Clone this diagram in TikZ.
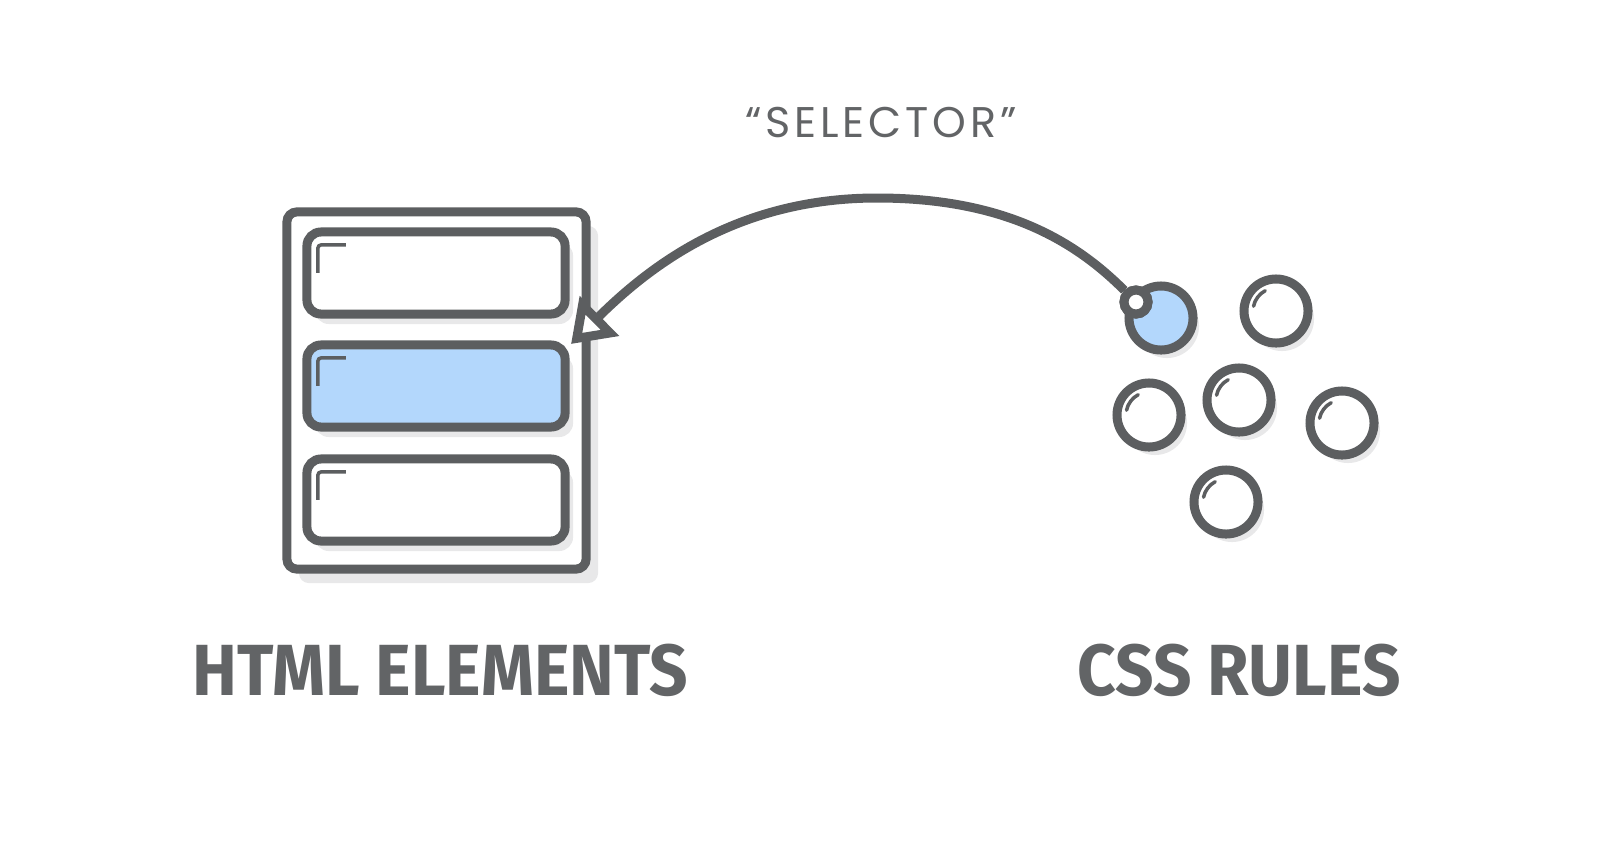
\documentclass[tikz,border=0pt]{standalone}
\usepackage{fontspec}
\usetikzlibrary{arrows.meta,shadows}
\newfontfamily\capsfont{Fira Sans}
\newfontfamily\quotefont{Poppins}[LetterSpace=9]

\begin{document}
\begin{tikzpicture}[x=0.01cm, y=0.01cm]

\definecolor{InkGray}{HTML}{5C5E60}
\definecolor{PaleBlue}{HTML}{B3D7FC}
\definecolor{ShadeGray}{HTML}{E8E8E9}
\definecolor{TextGray}{HTML}{626466}

\tikzset{
  ink/.style={draw=InkGray, line width=0.09cm, inner sep=0pt},
  gleam/.style={draw=InkGray, line width=0.035cm, line cap=round},
  shade/.style={drop shadow={shadow xshift=#1, shadow yshift=-#1-0.02cm, fill=ShadeGray, opacity=1}},
  bigcaps/.style={text=TextGray, anchor=base, font=\capsfont\bfseries\fontsize{20.6pt}{24pt}\selectfont}
}

\useasboundingbox (0,0) rectangle (1622,-854);

% Frame
\node[ink, fill=white, rounded corners=0.1cm, minimum width=2.99cm, minimum height=3.57cm, shade=0.12cm] (frame) at (436.5,-390.5) {};

% Element boxes
\foreach \n/\y/\c in {1/-273/white, 2/-386/PaleBlue, 3/-500/white}
{
     \node[ink, fill=\c, rounded corners=0.14cm, minimum width=2.58cm, minimum height=0.82cm, shade=0.08cm] (elem\n) at (436,\y) {};
     \draw[gleam, line cap=butt, rounded corners=0.03cm] ([shift={(15.5,-45.5)}]elem\n.north west) -- ++(0,28) -- ++(28,0);
}

% Rules
\foreach \n/\x/\y in {2/1276/-311, 3/1149/-415, 4/1239/-400, 5/1342/-423, 6/1226/-502}
{
     \node[ink, circle, fill=white, minimum size=0.64cm, shade=0.06cm] (rule\n) at (\x,\y) {};
     \draw[gleam] (rule\n.center) ++(168:23) arc (168:118:23);
}
\node[ink, circle, fill=PaleBlue, minimum size=0.64cm, shade=0.06cm] (rule1) at (1161,-318) {};
\node[ink, circle, fill=white, minimum size=0.24cm] (knob) at (1136,-302) {};

% Selector arrow
\coordinate (tip) at (571,-344);
\draw[ink, -{Triangle[length=0.4cm, width=0.54cm, fill=white]}] (knob) .. controls (1077,-243) and (1007,-198) .. (877,-198)
     .. controls (735,-198) and (648,-268) .. (tip);
\node[ink, circle, fill=white, minimum size=0.24cm] at (knob) {};

% Labels
\node[bigcaps] (lblhtml) at (440,-695) {\scalebox{0.93}[1]{HTML ELEMENTS}};
\node[bigcaps] (lblcss) at (1239,-695) {\scalebox{0.93}[1]{CSS RULES}};
\node[text=TextGray, anchor=base, font=\quotefont\fontsize{12.2pt}{14pt}\selectfont] (lblsel) at (881,-137) {“SELECTOR”};

\end{tikzpicture}
\end{document}
